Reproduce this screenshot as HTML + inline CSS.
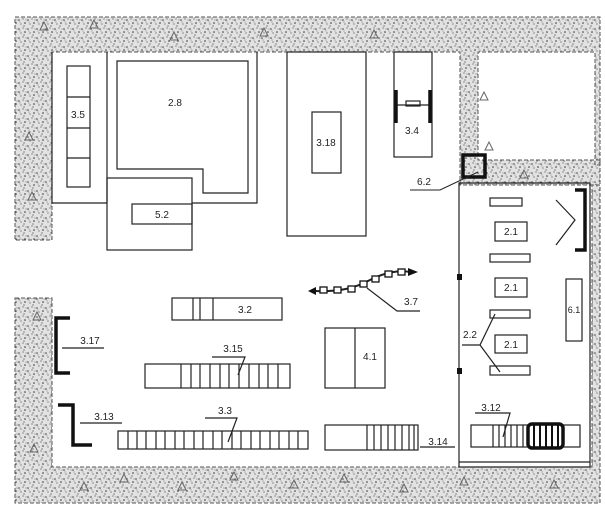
<!DOCTYPE html>
<html><head><meta charset="utf-8"><style>
html,body{margin:0;padding:0;background:#fff}
svg{display:block}
text{font-family:"Liberation Sans",sans-serif;font-size:10px;fill:#222}
</style></head><body>
<svg width="605" height="522" viewBox="0 0 605 522" xmlns="http://www.w3.org/2000/svg">
<defs>
<pattern id="st" width="9" height="9" patternUnits="userSpaceOnUse">
<rect width="9" height="9" fill="#e2e2e2"/>
<circle cx="1" cy="2" r="0.8" fill="#444"/><circle cx="5" cy="1" r="0.6" fill="#555"/>
<circle cx="7" cy="5" r="0.8" fill="#333"/><circle cx="3" cy="6" r="0.6" fill="#555"/>
<circle cx="6" cy="8" r="0.6" fill="#444"/><circle cx="2" cy="4" r="0.5" fill="#666"/>
<circle cx="8" cy="2" r="0.5" fill="#555"/>
</pattern>
</defs>
<g fill="url(#st)" stroke="#555" stroke-width="1" stroke-dasharray="4 2">
<path d="M15,17 L600,17 L600,165 L595,165 L595,52 L478,52 L478,160 L600,160 L600,185 L460,185 L460,52 L52,52 L52,240 L15,240 Z"/>
<path d="M15,298 L52,298 L52,467 L592,467 L592,185 L600,185 L600,503 L15,503 Z"/>
</g>
<g fill="none" stroke="#666" stroke-width="1">
<path d="M40,30 l4,-8 l4,8z M90,28 l4,-8 l4,8z M170,40 l4,-8 l4,8z M260,36 l4,-8 l4,8z M370,38 l4,-8 l4,8z M480,100 l4,-8 l4,8z M485,150 l4,-8 l4,8z M25,140 l4,-8 l4,8z M28,200 l4,-8 l4,8z M33,320 l4,-8 l4,8z M30,452 l4,-8 l4,8z M80,490 l4,-8 l4,8z M120,482 l4,-8 l4,8z M178,490 l4,-8 l4,8z M230,480 l4,-8 l4,8z M290,488 l4,-8 l4,8z M340,482 l4,-8 l4,8z M400,492 l4,-8 l4,8z M460,485 l4,-8 l4,8z M550,488 l4,-8 l4,8z M520,178 l4,-8 l4,8z"/>
</g>
<g fill="none" stroke="#222" stroke-width="1.2">
<path d="M52,52 V203 H107"/>
<rect x="67" y="66" width="23" height="121"/>
<path d="M67,97 H90 M67,128 H90 M67,158 H90"/>
<path d="M107,52 V203"/>
<path d="M117,61 H248 V193 H203 V169 H117 Z"/>
<path d="M257,52 V203 H192"/>
<rect x="107" y="178" width="85" height="72"/>
<rect x="132" y="204" width="60" height="20"/>
<rect x="287" y="52" width="79" height="184"/>
<rect x="312" y="112" width="29" height="61"/>
<rect x="394" y="52" width="38" height="105"/>
<path d="M396,105 H430"/><rect x="406" y="101" width="14" height="5"/>
<path d="M459,183 V467 H590 V183 Z M459,462 H590"/>
<rect x="490" y="198" width="32" height="8"/>
<rect x="495" y="222" width="32" height="19"/>
<rect x="490" y="254" width="40" height="8"/>
<rect x="495" y="278" width="32" height="19"/>
<rect x="490" y="310" width="40" height="8"/>
<rect x="495" y="335" width="32" height="18"/>
<rect x="490" y="366" width="40" height="9"/>
<rect x="566" y="279" width="16" height="62"/>
<path d="M556,200 L575,220 L556,245"/>
<path d="M462,345 H480 L495,314 M480,345 L500,372"/>
<rect x="471" y="425" width="109" height="22"/>
<path d="M493,425V447 M499,425V447 M505,425V447 M511,425V447 M517,425V447 M523,425V447"/>
<path d="M475,413 H510 L503,437"/>
<rect x="325" y="425" width="93" height="25"/>
<path d="M367,425V450 M374,425V450 M381,425V450 M388,425V450 M395,425V450 M402,425V450 M409,425V450 M414,425V450 M420,447 H455"/>
<rect x="118" y="431" width="190" height="18"/>
<path d="M128,431V449 M137,431V449 M146,431V449 M156,431V449 M165,431V449 M175,431V449 M184,431V449 M194,431V449 M203,431V449 M213,431V449 M222,431V449 M232,431V449 M241,431V449 M251,431V449 M260,431V449 M270,431V449 M279,431V449 M289,431V449 M298,431V449"/>
<path d="M205,418 H237 L228,442"/>
<path d="M80,423 H122 M62,348 H104"/>
<rect x="145" y="364" width="145" height="24"/>
<path d="M181,364V388 M191,364V388 M200,364V388 M210,364V388 M220,364V388 M229,364V388 M239,364V388 M249,364V388 M259,364V388 M268,364V388 M278,364V388"/>
<path d="M212,357 H245 L238,375"/>
<rect x="325" y="328" width="60" height="60"/><path d="M355,328V388"/>
<rect x="172" y="298" width="110" height="22"/>
<path d="M193,298V320 M200,298V320 M213,298V320"/>
<path d="M367,288 L397,311 H420"/>
<path d="M315,291 C340,292 355,288 370,280 C385,272 400,270 410,272" stroke-width="2"/>
</g>
<g fill="#fff" stroke="#111" stroke-width="1.3">
<rect x="320" y="287" width="7" height="6"/><rect x="334" y="287" width="7" height="6"/><rect x="348" y="286" width="7" height="6"/><rect x="360" y="281" width="7" height="6"/><rect x="372" y="276" width="7" height="6"/><rect x="385" y="271" width="7" height="6"/><rect x="398" y="269" width="7" height="6"/>
</g>
<path d="M308,291 L316,287 L316,295 Z M408,268 L418,272 L408,276Z" fill="#111"/>
<g fill="none" stroke="#111" stroke-width="3.5">
<rect x="463" y="155" width="22" height="22"/>
<path d="M396,90V123 M430,90V123"/>
<path d="M70,318 H56 V373 H70"/>
<path d="M58,405 H73 V445 H92"/>
<path d="M575,190 H585 V250 H575"/>
<rect x="528" y="424" width="35" height="24" rx="4"/>
<path d="M534,425V447 M540,425V447 M546,425V447 M552,425V447 M558,425V447" stroke-width="2"/>
</g>
<rect x="457" y="274" width="5" height="6" fill="#111"/>
<rect x="457" y="368" width="5" height="6" fill="#111"/>
<path d="M478,172 L440,190 H410" fill="none" stroke="#222"/>
<g text-anchor="middle">
<text x="78" y="118">3.5</text><text x="175" y="106">2.8</text><text x="162" y="218">5.2</text>
<text x="326" y="146">3.18</text><text x="412" y="134">3.4</text><text x="424" y="185">6.2</text>
<text x="511" y="235">2.1</text><text x="511" y="291">2.1</text><text x="511" y="348">2.1</text>
<text x="574" y="313" style="font-size:9px">6.1</text><text x="470" y="338">2.2</text><text x="491" y="411">3.12</text>
<text x="438" y="445">3.14</text><text x="225" y="414">3.3</text><text x="104" y="420">3.13</text>
<text x="90" y="344">3.17</text><text x="233" y="352">3.15</text><text x="370" y="360">4.1</text>
<text x="245" y="313">3.2</text><text x="411" y="305">3.7</text>
</g>
</svg>
</body></html>
